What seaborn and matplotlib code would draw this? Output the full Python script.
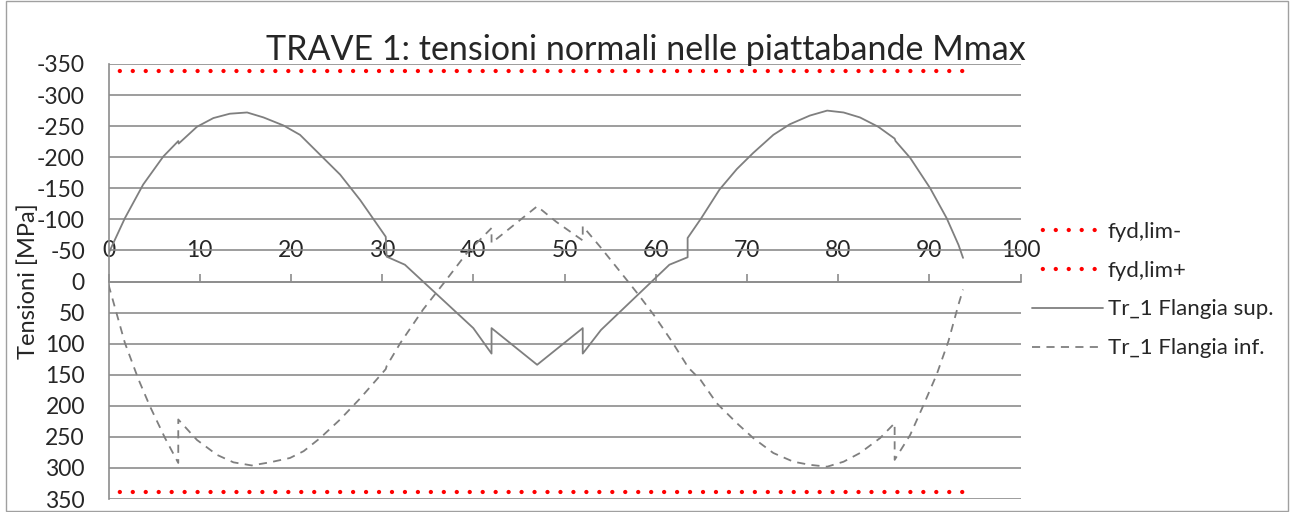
import numpy as np
import pandas as pd
import matplotlib
matplotlib.use("Agg")
import matplotlib.pyplot as plt
import seaborn as sns
from matplotlib.lines import Line2D
from matplotlib.patches import Rectangle

# ---- data ----
x_sup = [0, 1.8, 3.8, 6.0, 7.65, 7.7, 9.7, 11.5, 13.3, 15.2, 17.0, 19.2, 21.0, 23.2, 25.4, 27.6,
         30.4, 30.5, 32.5, 40.0, 42.0, 42.0, 47.0, 52.0, 52.0, 54.0, 61.5, 63.5, 63.5, 65.0, 67.0,
         68.9, 70.7, 72.9, 74.7, 76.9, 78.8, 80.6, 82.4, 84.4, 86.2, 86.3, 87.9, 90.1, 91.9, 93.2, 93.7]
y_sup = [-45, -102, -156, -201, -226, -222, -249, -263, -270, -272, -264, -251, -236, -204, -172, -131,
         -72, -40, -27, 75, 116, 75, 134, 75, 116, 78, -27, -39, -70, -102, -148,
         -181, -207, -236, -253, -267, -275, -272, -264, -249, -230, -226, -199, -150, -102, -59, -38]

x_inf = [0, 1.8, 3.3, 4.55, 6.2, 7.65, 7.65, 9.7, 11.9, 13.7, 15.7, 17.7, 19.9, 21.4, 23.2, 25.4,
         27.6, 30.4, 30.5, 32.0, 34.5, 36.9, 39.3, 42.0, 42.0, 47.0, 49.1, 52.0, 52.0, 53.9, 56.8,
         58.1, 59.9, 61.75, 63.3, 63.4, 64.9, 66.7, 68.9, 70.7, 72.9, 75.1, 76.9, 78.8, 80.6, 82.4,
         84.6, 86.2, 86.2, 87.9, 89.3, 90.8, 92.1, 93.2, 93.7]
y_inf = [5, 99, 158, 201, 252, 292, 222, 255, 279, 291, 296, 291, 284, 273, 252, 222,
         188, 141, 136, 99, 45, 0, -46, -86, -62, -121, -96, -66, -89, -56, -3,
         21, 56, 96, 132, 136, 158, 196, 228, 252, 276, 290, 295, 298, 290, 276,
         252, 228, 287, 247, 201, 150, 96, 37, 13]

x_lim = [0, 93.7]
y_lim_neg = [-338, -338]
y_lim_pos = [338, 338]

labels = ["fyd,lim-", "fyd,lim+", "Tr_1 Flangia sup.", "Tr_1 Flangia inf."]
title = "TRAVE 1: tensioni normali nelle piattabande Mmax"
ylabel = "Tensioni [MPa]"
yticks = list(range(-350, 351, 50))
xticks = list(range(0, 101, 10))

# ---- styling ----
sns.set_style("white")
plt.rcParams['font.family'] = ['Lato', 'DejaVu Sans']
TXT = "#262626"
GRAY = "#7f7f7f"
GRID = "#8c8c8c"
RED = "#ff0000"
FS = 16.5
LFS = 16.0

fig = plt.figure(figsize=(12.92, 5.12), dpi=100)
ax = fig.add_axes([108.5 / 1292, 1 - 499 / 512, (1020.5 - 108.5) / 1292, (499 - 64) / 512])

dot_ls = (0.5, (0.01, 3.0))

df_neg = pd.DataFrame({"x": x_lim, "y": y_lim_neg})
df_pos = pd.DataFrame({"x": x_lim, "y": y_lim_pos})
df_sup = pd.DataFrame({"x": x_sup, "y": y_sup})
df_inf = pd.DataFrame({"x": x_inf, "y": y_inf})

sns.lineplot(data=df_neg, x="x", y="y", ax=ax, sort=False, estimator=None, color=RED,
             lw=3.1, linestyle=dot_ls, dash_capstyle="round", zorder=4)
sns.lineplot(data=df_pos, x="x", y="y", ax=ax, sort=False, estimator=None, color=RED,
             lw=3.1, linestyle=dot_ls, dash_capstyle="round", zorder=4)
sns.lineplot(data=df_sup, x="x", y="y", ax=ax, sort=False, estimator=None, color=GRAY,
             lw=1.3, zorder=5)
sns.lineplot(data=df_inf, x="x", y="y", ax=ax, sort=False, estimator=None, color=GRAY,
             lw=1.3, linestyle=(0, (4.5, 3.5)), zorder=5)

ax.set_xlim(0, 100)
ax.set_ylim(350, -350)
ax.set_yticks(yticks)
ax.set_yticklabels([str(v) for v in yticks])
ax.set_xticks(xticks)
ax.set_xticklabels([str(v) for v in xticks])
ax.set_xlabel("")
ax.set_ylabel("")

ax.xaxis.tick_top()
ax.spines['top'].set_position(('data', 0))
ax.spines['bottom'].set_visible(False)
ax.spines['right'].set_visible(False)
for s in ['top', 'left']:
    ax.spines[s].set_color(GRID)
    ax.spines[s].set_linewidth(1.2)
    ax.spines[s].set_zorder(3)

ax.tick_params(axis='x', direction='out', length=6, width=1.2, color=GRID,
               labelsize=FS, labelcolor=TXT, pad=9, top=True, bottom=False)
ax.tick_params(axis='y', direction='out', length=6, width=1.2, color=GRID,
               labelsize=FS, labelcolor=TXT, pad=11)

ax.grid(axis='y', color=GRID, lw=1.2, zorder=1)
ax.grid(axis='x', visible=False)
ax.set_axisbelow(True)
ax.patch.set_alpha(0)

fig.text(0.5, 1 - 50 / 512, title, ha='center', va='center', fontsize=24.5, color=TXT)
fig.text(28 / 1292, 1 - 281.5 / 512, ylabel, ha='center', va='center', rotation=90,
         fontsize=17, color=TXT)

handles = [
    Line2D([], [], color=RED, lw=3.1, linestyle=dot_ls, dash_capstyle="round"),
    Line2D([], [], color=RED, lw=3.1, linestyle=dot_ls, dash_capstyle="round"),
    Line2D([], [], color=GRAY, lw=1.3),
    Line2D([], [], color=GRAY, lw=1.3, linestyle=(0, (4.5, 3.5))),
]
leg = fig.legend(handles, labels, loc='center left', bbox_to_anchor=(1032 / 1292, 1 - 290 / 512),
                 frameon=False, fontsize=LFS, handlelength=3.2, handletextpad=0.2,
                 labelspacing=0.85, borderaxespad=0, borderpad=0)
for t in leg.get_texts():
    t.set_color(TXT)

fig.patches.append(Rectangle((6 / 1292, 1 / 512), 1282 / 1292, 510 / 512, transform=fig.transFigure,
                             fill=False, edgecolor="#a0a0a0", lw=1.0))

fig.savefig("out.png", dpi=100)
